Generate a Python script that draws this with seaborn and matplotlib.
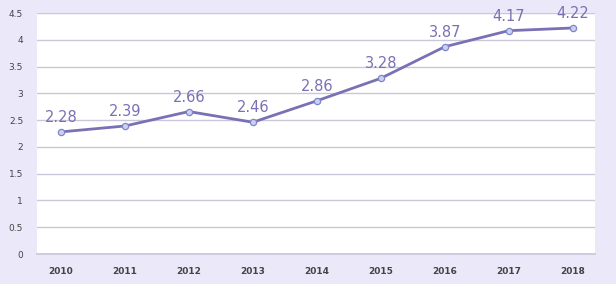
import matplotlib
matplotlib.use("Agg")
import matplotlib.pyplot as plt
import seaborn as sns
import pandas as pd

years = ["2010", "2011", "2012", "2013", "2014", "2015", "2016", "2017", "2018"]
values = [2.28, 2.39, 2.66, 2.46, 2.86, 3.28, 3.87, 4.17, 4.22]
y_ticks = [0, 0.5, 1, 1.5, 2, 2.5, 3, 3.5, 4, 4.5]
y_tick_labels = ["0", "0.5", "1", "1.5", "2", "2.5", "3", "3.5", "4", "4.5"]

df = pd.DataFrame({"year": years, "value": values})

sns.set_theme(style="white")
plt.rcParams["font.family"] = ["DejaVu Sans"]

fig = plt.figure(figsize=(6.16, 2.84), dpi=100, facecolor="#ebe8f9")
ax = fig.add_axes([37 / 616, 1 - 254 / 284, (595 - 37) / 616, (254 - 13) / 284])
ax.set_facecolor("white")

line_c = "#7a70b5"
sns.lineplot(data=df, x="year", y="value", ax=ax, color=line_c, linewidth=2.0,
             marker="o", markersize=4.5, markerfacecolor="#c9d1f2",
             markeredgecolor="#7f86c8", markeredgewidth=0.9, sort=False)

for i, v in enumerate(values):
    ax.annotate(f"{v:.2f}", (i, v), xytext=(0, 5), textcoords="offset points",
                ha="center", va="bottom", fontsize=10.5, color="#7a70b5")

ax.set_ylim(0, 4.5)
ax.set_xlim(-0.375, 8.35)
ax.set_yticks(y_ticks)
ax.set_yticklabels(y_tick_labels)
ax.yaxis.grid(True, color="#c9c8da", linewidth=1.0)
ax.xaxis.grid(False)
ax.set_axisbelow(True)
for s in ["top", "right", "left"]:
    ax.spines[s].set_visible(False)
ax.spines["bottom"].set_color("#c9c8da")
ax.tick_params(axis="y", labelsize=6.5, colors="#444444", length=0, pad=10)
ax.tick_params(axis="x", labelsize=6.5, colors="#444444", length=0, pad=9)
for t in ax.get_xticklabels():
    t.set_fontweight("bold")
ax.set_xlabel("")
ax.set_ylabel("")

fig.savefig("out.png", dpi=100, facecolor=fig.get_facecolor())
